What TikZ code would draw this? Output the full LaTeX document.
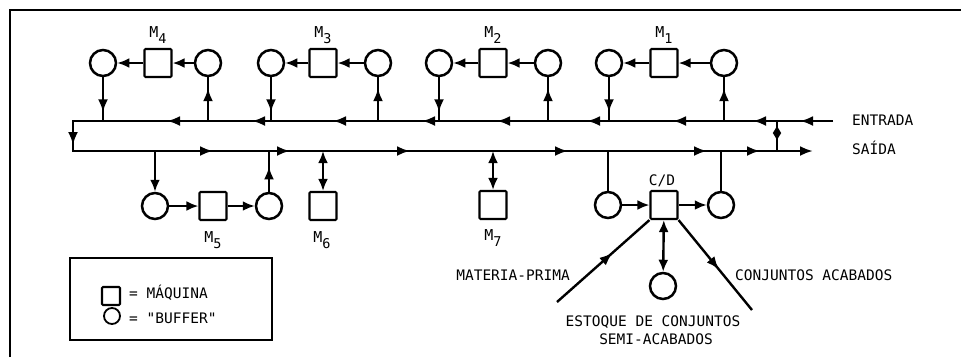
\documentclass[tikz,border=0pt]{standalone}
\usepackage{fontspec}
\setmonofont{DejaVu Sans Mono}
\usetikzlibrary{arrows.meta,decorations.markings}
\newcommand\Mlab[1]{M\raisebox{-6pt}{\fontsize{13.5}{14}\selectfont #1}}
\begin{document}
\begin{tikzpicture}[x=1pt,y=-1pt,
  buf/.style={circle,draw,line width=2.5pt,minimum size=26pt,inner sep=0pt},
  mach/.style={rectangle,draw,line width=2.1pt,minimum width=27pt,minimum height=28pt,inner sep=0pt,rounded corners=1pt},
  flow/.style={line width=2.4pt},
  tipend/.style={-{Latex[length=12pt,width=10pt]}},
  tipboth/.style={{Latex[length=12pt,width=10pt]}-{Latex[length=12pt,width=10pt]}},
  midarrow/.style={postaction={decorate},decoration={markings,mark=at position #1 with {\arrow{Latex[length=13pt,width=10pt]}}}},
  lbl/.style={font=\ttfamily\fontsize{14.5}{16}\selectfont,inner sep=0pt},
  mlbl/.style={font=\ttfamily\fontsize{15}{16}\selectfont,inner sep=0pt,anchor=base},
  conveyor/.style={line width=2.6pt,-{Latex[length=13pt,width=10pt]},postaction={decorate},
    decoration={markings,
      mark=at position 33pt with {\arrow{Latex[length=13pt,width=10pt]}},
      mark=at position 80pt with {\arrow{Latex[length=13pt,width=10pt]}},
      mark=at position 160pt with {\arrow{Latex[length=13pt,width=10pt]}},
      mark=at position 246pt with {\arrow{Latex[length=13pt,width=10pt]}},
      mark=at position 336pt with {\arrow{Latex[length=13pt,width=10pt]}},
      mark=at position 411pt with {\arrow{Latex[length=13pt,width=10pt]}},
      mark=at position 500pt with {\arrow{Latex[length=13pt,width=10pt]}},
      mark=at position 581pt with {\arrow{Latex[length=13pt,width=10pt]}},
      mark=at position 666pt with {\arrow{Latex[length=13pt,width=10pt]}},
      mark=at position 784pt with {\arrow{Latex[length=13pt,width=10pt]}},
      mark=at position 930pt with {\arrow{Latex[length=13pt,width=10pt]}},
      mark=at position 1007pt with {\arrow{Latex[length=13pt,width=10pt]}},
      mark=at position 1127pt with {\arrow{Latex[length=13pt,width=10pt]}},
      mark=at position 1285pt with {\arrow{Latex[length=13pt,width=10pt]}},
      mark=at position 1424pt with {\arrow{Latex[length=13pt,width=10pt]}},
      mark=at position 1477pt with {\arrow{Latex[length=13pt,width=10pt]}}}},
  diamondlink/.style={line width=2.4pt,postaction={decorate},
    decoration={markings,
      mark=at position 26pt with {\arrow{Latex[length=8pt,width=9pt]}},
      mark=at position 10pt with {\arrowreversed{Latex[length=8pt,width=9pt]}}}}
]
\useasboundingbox (0,0) rectangle (961,357);
% frame
\draw[line width=2.4pt] (10,357) -- (10,10) -- (961,10);

% conveyor coordinates
\coordinate (ent) at (833,121);
\coordinate (tl) at (73,121);
\coordinate (bl) at (73,151);
\coordinate (sai) at (813,151);
\draw[conveyor] (ent) -- (tl) -- (bl) -- (sai);

% link entrada/saida
\coordinate (lkb) at (777,151);
\coordinate (lkt) at (777,121);
\draw[diamondlink] (lkb) -- (lkt);

% top machines
\foreach \n/\xl/\xm/\xr in {4/103/158/208, 3/271/323/378, 2/439/493/548, 1/609/664/724}{
  \node[buf] (b\n l) at (\xl,63) {};
  \node[mach] (m\n) at (\xm,63) {};
  \node[buf] (b\n r) at (\xr,63) {};
  \node[mlbl] (lm\n) at (\xm,37) {\Mlab{\n}};
  \coordinate (j\n l) at (\xl,121);
  \coordinate (j\n r) at (\xr,121);
  \draw[flow,tipend] (b\n r) -- (m\n);
  \draw[flow,tipend] (m\n) -- (b\n l);
  \draw[flow,midarrow=0.8] (b\n l) -- (j\n l);
  \draw[flow,midarrow=0.75] (j\n r) -- (b\n r);
}

% M5
\node[buf] (b5l) at (155,206) {};
\node[mach] (m5) at (213,206) {};
\node[buf] (b5r) at (269,206) {};
\node[mlbl] (lm5) at (213,242) {\Mlab{5}};
\coordinate (j5l) at (155,151);
\coordinate (j5r) at (269,151);
\draw[flow,tipend] (j5l) -- (b5l);
\draw[flow,tipend] (b5l) -- (m5);
\draw[flow,tipend] (m5) -- (b5r);
\draw[flow,midarrow=0.62] (b5r) -- (j5r);

% M6
\node[mach] (m6) at (323,206) {};
\node[mlbl] (lm6) at (322,242) {\Mlab{6}};
\coordinate (j6) at (323,151);
\draw[flow,tipboth] (j6) -- (m6);

% M7
\node[mach] (m7) at (493,205) {};
\node[mlbl] (lm7) at (493,240) {\Mlab{7}};
\coordinate (j7) at (493,151);
\draw[flow,tipboth] (j7) -- (m7);

% C/D
\node[buf] (cdl) at (608,205) {};
\node[mach] (cd) at (664,205) {};
\node[buf] (cdr) at (721,205) {};
\node[buf] (stock) at (663,286) {};
\node[lbl,anchor=base] (lcd) at (662,185) {C/D};
\coordinate (jcl) at (608,151);
\coordinate (jcr) at (721,151);
\draw[flow] (jcl) -- (cdl);
\draw[flow] (jcr) -- (cdr);
\draw[flow,tipend] (cdl) -- (cd);
\draw[flow,tipend] (cd) -- (cdr);
\draw[flow,tipboth] (cd) -- (stock);
\coordinate (mp) at (557,302);
\coordinate (ca) at (752,310);
\draw[flow,midarrow=0.6] (mp) -- (cd.south west);
\draw[flow,midarrow=0.55] (cd.south east) -- (ca);

% texts
\node[lbl,anchor=west] (tent) at (852,120) {ENTRADA};
\node[lbl,anchor=west] (tsai) at (852,148) {SAÍDA};
\node[lbl,anchor=east] (tmp) at (570,275) {MATERIA-PRIMA};
\node[lbl,anchor=west] (tca) at (735,275) {CONJUNTOS ACABADOS};
\node[lbl] (tes1) at (653,322) {ESTOQUE DE CONJUNTOS};
\node[lbl] (tes2) at (656,339) {SEMI-ACABADOS};

% legend
\draw[line width=2pt] (70,258) rectangle (272,340);
\node[mach,minimum width=18pt,minimum height=18pt] (lsq) at (111,296) {};
\node[buf,line width=1.8pt,minimum size=16pt] (lci) at (112,316) {};
\node[lbl,anchor=west] (tmq) at (129,293) {= MÁQUINA};
\node[lbl,anchor=west] (tbf) at (129,318) {= "BUFFER"};
\end{tikzpicture}
\end{document}
